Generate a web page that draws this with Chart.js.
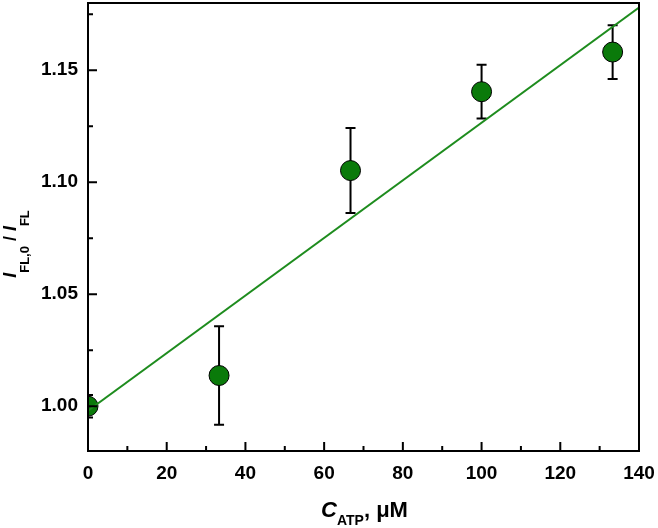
<!DOCTYPE html>
<html>
<head>
<meta charset="utf-8">
<script src="https://cdn.jsdelivr.net/npm/chart.js@4"></script>
<style>
	html, body { margin: 0; padding: 0; background: #fff; }
	#wrap { width: 658px; height: 528px; }
</style>
</head>
<body>
<div id="wrap"><canvas id="graph"></canvas></div>
<script>
// data
const concATP = [0, 33.3, 66.7, 100, 133.3];
const ratioFL = [1.000, 1.0137, 1.1052, 1.1404, 1.1581];
const ratioErr = [0.005, 0.022, 0.019, 0.012, 0.012];
const fitX = [0, 140];
const fitY = [0.998, 1.178];
const xTicks = [0, 20, 40, 60, 80, 100, 120, 140];
const xMinor = [10, 30, 50, 70, 90, 110, 130];
const yTicks = [1.00, 1.05, 1.10, 1.15];
const yMinor = [1.025, 1.075, 1.125, 1.175];

const FONT = 'Liberation Sans, Arial, sans-serif';
const tickFont = { family: FONT, size: 19, weight: 'bold' };

// error bars, drawn under the markers
const errorBars = {
	id: 'errorBars',
	beforeDatasetsDraw(chart) {
		const { ctx, chartArea, scales: { x, y } } = chart;
		ctx.save();
		ctx.beginPath();
		ctx.rect(chartArea.left, chartArea.top, chartArea.right - chartArea.left, chartArea.bottom - chartArea.top);
		ctx.clip();
		ctx.strokeStyle = '#000';
		ctx.lineWidth = 2;
		concATP.forEach((c, i) => {
			const px = x.getPixelForValue(c);
			const top = y.getPixelForValue(ratioFL[i] + ratioErr[i]);
			const bot = y.getPixelForValue(ratioFL[i] - ratioErr[i]);
			ctx.beginPath();
			ctx.moveTo(px, top); ctx.lineTo(px, bot);
			ctx.moveTo(px - 5, top); ctx.lineTo(px + 5, top);
			ctx.moveTo(px - 5, bot); ctx.lineTo(px + 5, bot);
			ctx.stroke();
		});
		ctx.restore();
	}
};

// box frame + inward ticks + axis titles with subscripts
const frame = {
	id: 'frame',
	afterDatasetsDraw(chart) {
		const { ctx, chartArea: a, scales: { x, y } } = chart;
		ctx.save();
		ctx.strokeStyle = '#000';
		ctx.lineWidth = 2;
		ctx.strokeRect(a.left, a.top, a.right - a.left, a.bottom - a.top);
		ctx.beginPath();
		xTicks.forEach(v => { const p = x.getPixelForValue(v); ctx.moveTo(p, a.bottom); ctx.lineTo(p, a.bottom - 9); });
		xMinor.forEach(v => { const p = x.getPixelForValue(v); ctx.moveTo(p, a.bottom); ctx.lineTo(p, a.bottom - 5); });
		yTicks.forEach(v => { const p = y.getPixelForValue(v); ctx.moveTo(a.left, p); ctx.lineTo(a.left + 9, p); });
		yMinor.forEach(v => { const p = y.getPixelForValue(v); ctx.moveTo(a.left, p); ctx.lineTo(a.left + 5, p); });
		ctx.stroke();

		ctx.fillStyle = '#000';
		ctx.textBaseline = 'alphabetic';
		ctx.textAlign = 'left';
		const drawParts = (parts, startX, baseY) => {
			let cx = startX;
			parts.forEach(p => {
				ctx.font = p.font;
				ctx.fillText(p.t, cx, baseY + p.dy);
				cx += ctx.measureText(p.t).width;
			});
		};
		const measure = parts => parts.reduce((s, p) => { ctx.font = p.font; return s + ctx.measureText(p.t).width; }, 0);

		// x title: C_ATP, μM
		const xParts = [
			{ t: 'C', font: `italic bold 22px ${FONT}`, dy: 0 },
			{ t: 'ATP', font: `bold 14px ${FONT}`, dy: 8 },
			{ t: ', \u03bcM', font: `bold 22px ${FONT}`, dy: 0 }
		];
		const xw = measure(xParts);
		drawParts(xParts, (a.left + a.right) / 2 - xw / 2 + 1, 517);

		// y title: I_FL,0 / I_FL
		const yParts = [
			{ t: 'I', font: `italic bold 18px ${FONT}`, dy: 0 },
			{ t: 'FL,0', font: `bold 13px ${FONT}`, dy: 13 },
			{ t: ' /', font: `bold 18px ${FONT}`, dy: 0 },
			{ t: ' I', font: `italic bold 18px ${FONT}`, dy: 0 },
			{ t: 'FL', font: `bold 13px ${FONT}`, dy: 13 }
		];
		const yw = measure(yParts);
		ctx.translate(16, 244);
		ctx.rotate(-Math.PI / 2);
		drawParts(yParts, -yw / 2, 0);
		ctx.restore();
	}
};

const ctx = document.getElementById('graph');

const chart = new Chart(ctx, {
	data: {
		datasets: [{
			type: 'line',
			data: fitX.map((v, i) => ({ x: v, y: fitY[i] })),
			borderColor: '#1e8c1e',
			borderWidth: 2,
			pointRadius: 0,
			fill: false,
			clip: 0,
		}, {
			type: 'scatter',
			data: concATP.map((v, i) => ({ x: v, y: ratioFL[i] })),
			backgroundColor: '#0a7a0a',
			borderColor: '#000',
			borderWidth: 1,
			pointRadius: 10,
			pointHoverRadius: 10,
			clip: 0,
		}]
	},
	options: {
		responsive: true,
		maintainAspectRatio: false,
		animation: false,
		layout: {
			autoPadding: false,
			padding: { top: 3, right: 19, left: 0, bottom: 0 }
		},
		scales: {
			x: {
				type: 'linear',
				min: 0,
				max: 140,
				grid: { display: false, drawTicks: false },
				border: { display: false },
				ticks: { color: '#000', font: tickFont, padding: 11, maxRotation: 0 },
				afterBuildTicks: scale => { scale.ticks = xTicks.map(v => ({ value: v })); },
				afterFit: scale => {
					scale.height = 77;
					scale.paddingLeft = scale.paddingRight = scale.paddingTop = scale.paddingBottom = 0;
				}
			},
			y: {
				type: 'linear',
				min: 0.98,
				max: 1.18,
				grid: { display: false, drawTicks: false },
				border: { display: false },
				ticks: {
					color: '#000', font: tickFont, padding: 10,
					callback: v => v.toFixed(2)
				},
				afterBuildTicks: scale => { scale.ticks = yTicks.map(v => ({ value: v })); },
				afterFit: scale => {
					scale.width = 88;
					scale.paddingLeft = scale.paddingRight = scale.paddingTop = scale.paddingBottom = 0;
				}
			}
		},
		plugins: {
			legend: { display: false },
			tooltip: { enabled: false }
		}
	},
	plugins: [errorBars, frame]
});
</script>
</body>
</html>
